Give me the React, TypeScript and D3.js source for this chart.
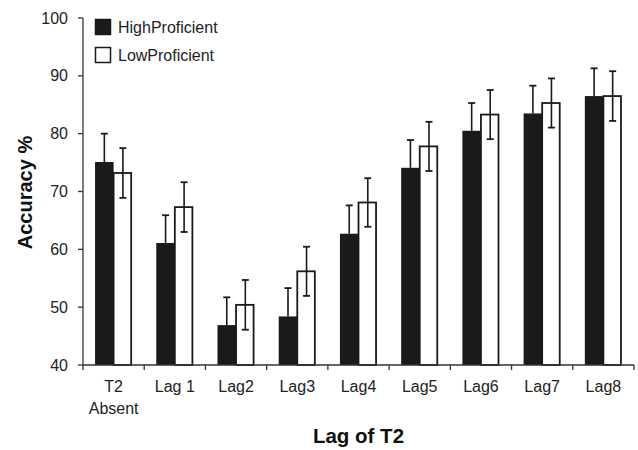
import React from "react";
import * as d3 from "d3";

// values
const categories = ["T2\nAbsent", "Lag 1", "Lag2", "Lag3", "Lag4", "Lag5", "Lag6", "Lag7", "Lag8"];
const seriesNames = ["HighProficient", "LowProficient"];
const highValues = [75.1, 61.1, 46.9, 48.4, 62.7, 74.1, 80.5, 83.5, 86.5];
const highErrors = [4.9, 4.8, 4.8, 4.9, 4.9, 4.8, 4.8, 4.8, 4.8];
const lowValues = [73.2, 67.3, 50.4, 56.2, 68.1, 77.8, 83.3, 85.3, 86.5];
const lowErrors = [4.3, 4.3, 4.3, 4.25, 4.2, 4.25, 4.25, 4.25, 4.3];
const yTicks = [40, 50, 60, 70, 80, 90, 100];

const width = 638;
const height = 450;
const margin = { top: 18, right: 4, bottom: 85, left: 83 };
const font = "'Liberation Sans', Arial, Helvetica, sans-serif";
const ink = "#1a1a1a";

export default function App() {
  const x = d3
    .scaleBand()
    .domain(categories)
    .range([margin.left, width - margin.right])
    .padding(0);

  const inner = d3
    .scaleBand()
    .domain(seriesNames)
    .range([0, x.bandwidth()])
    .paddingInner(0)
    .paddingOuter(0.65);

  const y = d3
    .scaleLinear()
    .domain([40, 100])
    .range([height - margin.bottom, margin.top]);

  const rows = categories.map((c, i) => ({
    cat: c,
    high: highValues[i],
    highErr: highErrors[i],
    low: lowValues[i],
    lowErr: lowErrors[i],
  }));

  const bw = inner.bandwidth();
  const cap = 3.5;
  const y0 = y(40);

  return (
    <svg
      width={width}
      height={height}
      style={{ position: "absolute", left: 0, top: 0, background: "#fff" }}
      fontFamily={font}
    >
      {/* bars */}
      {rows.map((d) => {
        const xh = x(d.cat)! + inner(seriesNames[0])!;
        const xl = x(d.cat)! + inner(seriesNames[1])!;
        const ch = xh + bw / 2;
        const cl = xl + bw / 2;
        return (
          <g key={d.cat}>
            <rect x={xh} y={y(d.high)} width={bw} height={y0 - y(d.high)} fill={ink} />
            <line x1={ch} x2={ch} y1={y(d.high)} y2={y(d.high + d.highErr)} stroke={ink} strokeWidth={1.6} />
            <line x1={ch - cap} x2={ch + cap} y1={y(d.high + d.highErr)} y2={y(d.high + d.highErr)} stroke={ink} strokeWidth={1.8} />
            <rect
              x={xl}
              y={y(d.low)}
              width={bw - 1}
              height={y0 - y(d.low)}
              fill="#fff"
              stroke={ink}
              strokeWidth={1.8}
            />
            <line x1={cl} x2={cl} y1={y(d.low - d.lowErr)} y2={y(d.low + d.lowErr)} stroke={ink} strokeWidth={1.6} />
            <line x1={cl - cap} x2={cl + cap} y1={y(d.low + d.lowErr)} y2={y(d.low + d.lowErr)} stroke={ink} strokeWidth={1.8} />
            <line x1={cl - cap} x2={cl + cap} y1={y(d.low - d.lowErr)} y2={y(d.low - d.lowErr)} stroke={ink} strokeWidth={1.8} />
          </g>
        );
      })}

      {/* y axis */}
      <line x1={margin.left} x2={margin.left} y1={y(100)} y2={y0} stroke="#333" strokeWidth={1.3} />
      {yTicks.map((t) => (
        <g key={t}>
          <line x1={margin.left - 5} x2={margin.left} y1={y(t)} y2={y(t)} stroke="#333" strokeWidth={1.3} />
          <text x={margin.left - 15} y={y(t)} dy="0.35em" textAnchor="end" fontSize={16} fill="#222">
            {t}
          </text>
        </g>
      ))}

      {/* x axis */}
      <line x1={margin.left} x2={width - margin.right} y1={y0} y2={y0} stroke="#333" strokeWidth={1.3} />
      {categories.map((c) => (
        <line key={"t" + c} x1={x(c)!} x2={x(c)!} y1={y0} y2={y0 + 5} stroke="#333" strokeWidth={1.3} />
      ))}
      <line x1={width - margin.right} x2={width - margin.right} y1={y0} y2={y0 + 5} stroke="#333" strokeWidth={1.3} />
      {categories.map((c) => (
        <text key={"l" + c} x={x(c)! + x.bandwidth() / 2} y={y0 + 27} textAnchor="middle" fontSize={16} fill="#222">
          {c.split("\n").map((s, i) => (
            <tspan key={i} x={x(c)! + x.bandwidth() / 2} dy={i === 0 ? 0 : 21.5}>
              {s}
            </tspan>
          ))}
        </text>
      ))}

      {/* axis titles */}
      <text
        transform={`translate(32,${(y(100) + y0) / 2 + 1}) rotate(-90)`}
        textAnchor="middle"
        fontSize={20}
        fontWeight="bold"
        fill="#111"
      >
        Accuracy %
      </text>
      <text x={358.5} y={443} textAnchor="middle" fontSize={20.5} fontWeight="bold" fill="#111">
        Lag of T2
      </text>

      {/* legend */}
      {seriesNames.map((s, i) => (
        <g key={s} transform={`translate(95,${19 + i * 28})`}>
          <rect
            x={0.5}
            y={0.5}
            width={15}
            height={15}
            fill={i === 0 ? ink : "#fff"}
            stroke={ink}
            strokeWidth={1.5}
          />
          <text x={23} y={8} dy="0.36em" fontSize={16} fill="#222">
            {s}
          </text>
        </g>
      ))}
    </svg>
  );
}
